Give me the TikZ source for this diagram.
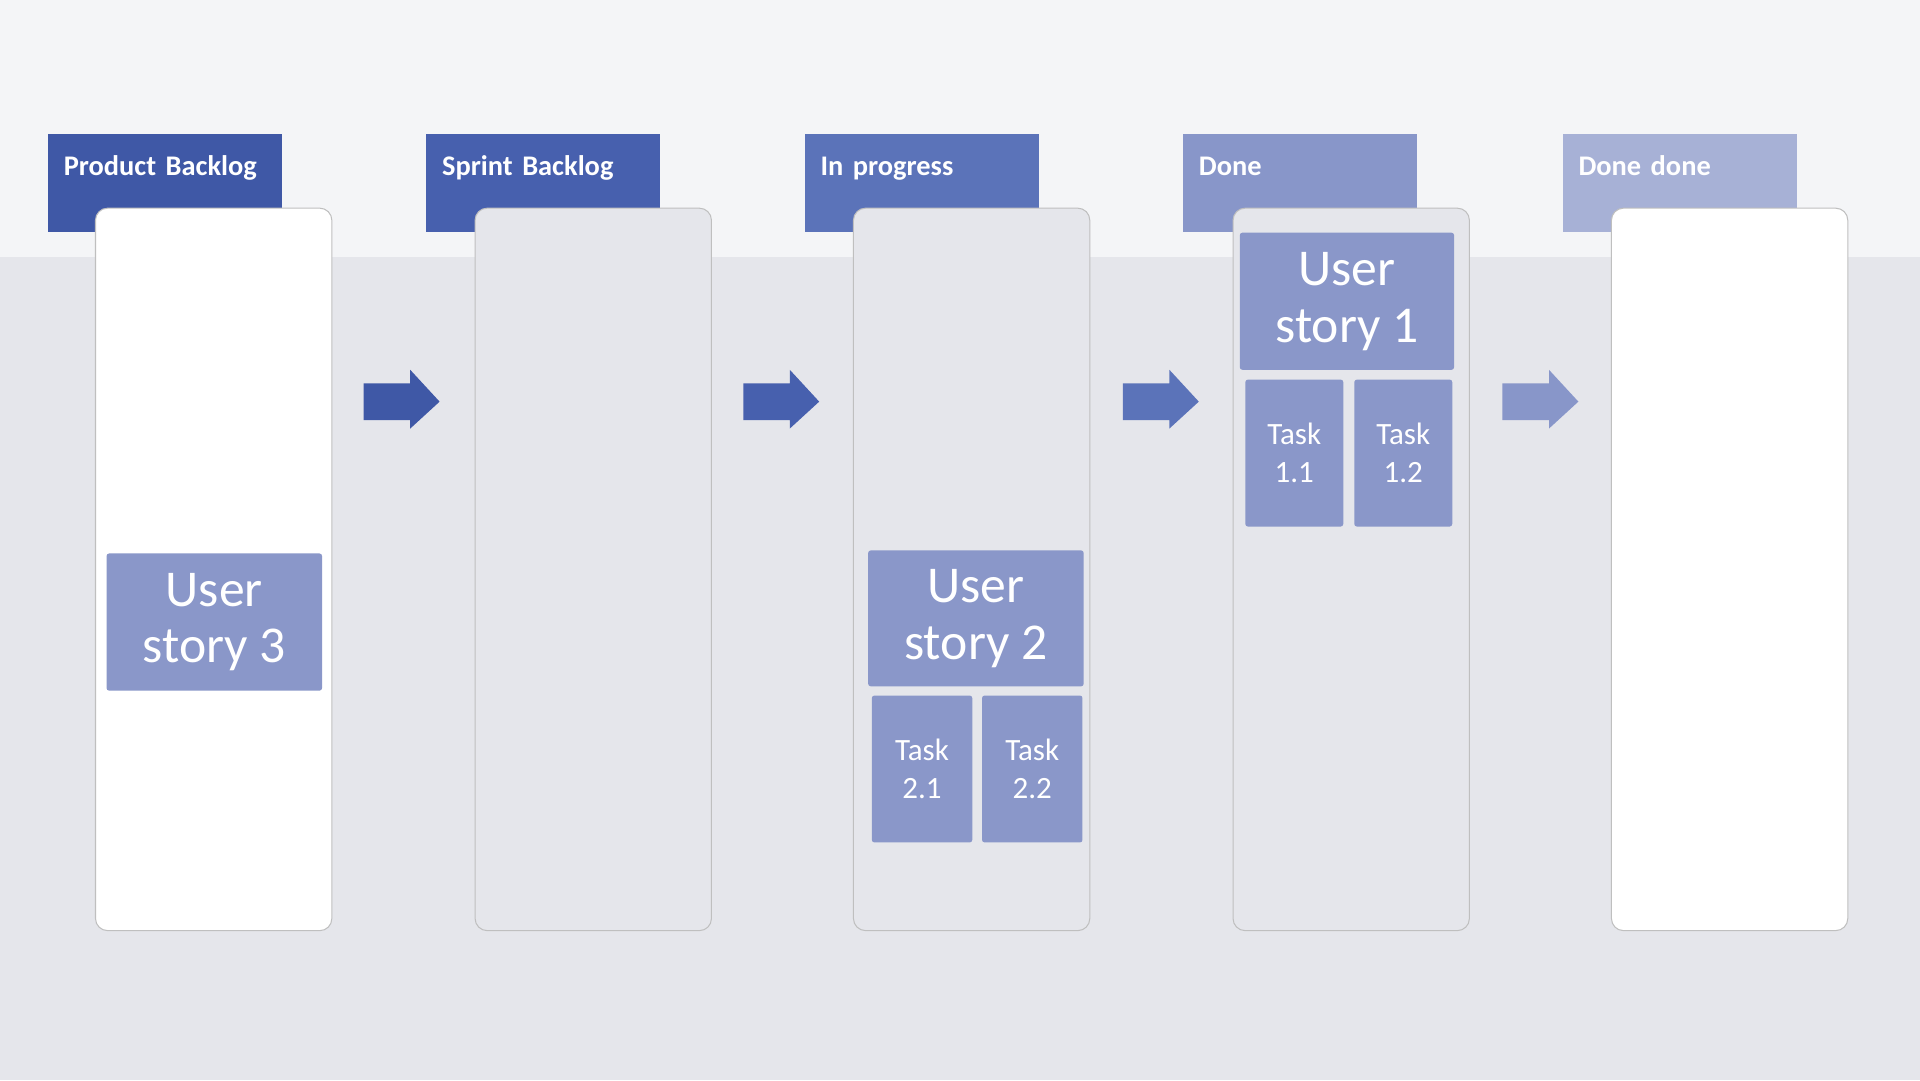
\documentclass[tikz,border=0pt]{standalone}
\usepackage{fontspec}
\setmainfont{Carlito}
\begin{document}
\begin{tikzpicture}[x=0.05cm,y=-0.05cm,
 hdr/.style={anchor=north west,minimum height=80*0.05cm,text width=165*0.05cm,inner xsep=13*0.05cm,inner ysep=0pt,text=white,font=\fontsize{33}{35}\selectfont\bfseries,align=left,text height=24pt},
 col/.style={draw=black!25,line width=1.2pt,rounded corners=14pt},
 card/.style={fill=#1,draw=none,rounded corners=3pt,text=white,align=center},
 story/.style={card=cardc,font=\fontsize{60}{66}\selectfont},
 task/.style={card=cardc,font=\fontsize{36}{44}\selectfont}]
\definecolor{bgtop}{HTML}{F4F5F7}\definecolor{band}{HTML}{E5E6EB}
\definecolor{hA}{HTML}{3F58A6}\definecolor{hB}{HTML}{4760AE}\definecolor{hC}{HTML}{5B73B9}
\definecolor{hD}{HTML}{8896C9}\definecolor{hE}{HTML}{A7B1D6}\definecolor{cardc}{HTML}{8A97C9}
\useasboundingbox (0,0) rectangle (1568,882);
\fill[bgtop] (0,0) rectangle (1568,882);
\fill[band] (0,210) rectangle (1568,882);
% headers
\foreach \x/\c/\t/\n in {39/hA/Product Backlog/h1,348/hB/Sprint Backlog/h2,657/hC/In progress/h3,966/hD/Done/h4,1276/hE/Done done/h5}{
 \node[hdr,fill=\c,text depth=40pt] (\n) at (\x,109) {\t};
}
% columns
\draw[col,fill=white] (78,170) rectangle (271,760);
\draw[col,fill=band] (388,170) rectangle (581,760);
\draw[col,fill=band] (697,170) rectangle (890,760);
\draw[col,fill=band] (1007,170) rectangle (1200,760);
\draw[col,fill=white] (1316,170) rectangle (1509,760);
% arrows
\foreach \x/\c in {297/hA,607/hB,917/hC,1227/hD}{
 \fill[\c] (\x,313) -- (\x+38,313) -- (\x+38,302) -- (\x+62,328) -- (\x+38,350) -- (\x+38,343) -- (\x,343) -- cycle;
}
% cards
\node[story,minimum width=176*0.05cm,minimum height=112*0.05cm] (us3) at (175,508) {User\\story 3};
\node[story,minimum width=176*0.05cm,minimum height=111*0.05cm] (us2) at (797,505) {User\\story 2};
\node[task,minimum width=82*0.05cm,minimum height=120*0.05cm] (t21) at (753,628) {Task\\2.1};
\node[task,minimum width=82*0.05cm,minimum height=120*0.05cm] (t22) at (843,628) {Task\\2.2};
\node[story,minimum width=175*0.05cm,minimum height=112*0.05cm] (us1) at (1100,246) {User\\story 1};
\node[task,minimum width=80*0.05cm,minimum height=120*0.05cm] (t11) at (1057,370) {Task\\1.1};
\node[task,minimum width=80*0.05cm,minimum height=120*0.05cm] (t12) at (1146,370) {Task\\1.2};
\end{tikzpicture}
\end{document}
